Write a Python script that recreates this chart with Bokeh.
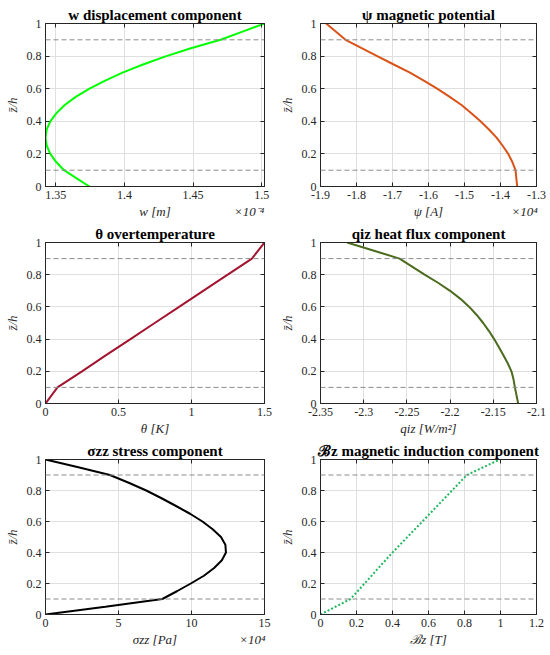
from bokeh.plotting import figure
from bokeh.layouts import gridplot
from bokeh.models import Range1d, LinearAxis, FixedTicker, CustomJSTickFormatter, Span
from bokeh.embed import file_html
from bokeh.resources import INLINE

# ---------------- data ----------------
z_fine = [0.0, 0.05, 0.1, 0.15, 0.2, 0.25, 0.3, 0.35, 0.4, 0.45, 0.5,
          0.55, 0.6, 0.65, 0.7, 0.75, 0.8, 0.85, 0.9, 0.95, 1.0]
z_coarse = [0.0, 0.1, 0.2, 0.3, 0.4, 0.5, 0.6, 0.7, 0.8, 0.9, 1.0]

# w displacement, units of 1e-4 m
w_vals = [1.3745, 1.3652, 1.3560, 1.3503, 1.3460, 1.3434, 1.3425, 1.3434, 1.3460, 1.3505, 1.3565,
          1.3645, 1.3745, 1.3860, 1.3990, 1.4140, 1.4305, 1.4490, 1.4700, 1.4860, 1.5020]
# psi magnetic potential, units of 1e4 A
psi_vals = [-1.3536, -1.3560, -1.3583, -1.3670, -1.3786, -1.3940, -1.4110, -1.4320, -1.4556, -1.4810, -1.5083,
            -1.5410, -1.5760, -1.6130, -1.6528, -1.6980, -1.7425, -1.7870, -1.8305, -1.8570, -1.8843]
# theta overtemperature, K
theta_vals = [0.0, 0.082, 0.250, 0.415, 0.582, 0.748, 0.915, 1.080, 1.248, 1.414, 1.500]
# q_iz heat flux, W/m^2
q_vals = [-2.1212, -2.1231, -2.1250, -2.1266, -2.1290, -2.1333, -2.1383, -2.1435, -2.1490, -2.1550, -2.1617,
          -2.1692, -2.1778, -2.1880, -2.2000, -2.2140, -2.2295, -2.2440, -2.2585, -2.2890, -2.3192]
# sigma_zz stress, units of 1e4 Pa
sigma_vals = [0.0, 4.1, 8.0, 9.0, 9.95, 10.85, 11.55, 12.08, 12.36, 12.32, 12.02,
              11.45, 10.75, 9.9, 8.94, 7.95, 6.9, 5.7, 4.41, 2.25, 0.0]
# B_z magnetic induction, T
B_vals = [0.0, 0.167, 0.245, 0.322, 0.400, 0.483, 0.566, 0.648, 0.731, 0.813, 0.996]

layer_bounds = [0.1, 0.9]

z_ticks = [0, 0.2, 0.4, 0.6, 0.8, 1.0]
w_ticks = [1.35, 1.4, 1.45, 1.5]
psi_ticks = [-1.9, -1.8, -1.7, -1.6, -1.5, -1.4, -1.3]
theta_ticks = [0, 0.5, 1.0, 1.5]
q_ticks = [-2.35, -2.3, -2.25, -2.2, -2.15, -2.1]
sigma_ticks = [0, 5, 10, 15]
B_ticks = [0, 0.2, 0.4, 0.6, 0.8, 1.0, 1.2]

w_range = (1.3425, 1.502)
psi_range = (-1.9, -1.3)
theta_range = (0, 1.5)
q_range = (-2.35, -2.1)
sigma_range = (0, 15)
B_range = (0, 1.2)

SERIF = "Liberation Serif"
INK = "#262626"


def num_fmt():
    return CustomJSTickFormatter(code="return String(parseFloat(tick.toFixed(4)));")


def blank_fmt():
    return CustomJSTickFormatter(code="return '';")


def panel(title, xlabel, xv, zv, color, xr, xticks, scale_text, w, h, bl, br, bt, bb,
          dash="solid", lw=2, title_size="15px", scale_frac=0.07):
    p = figure(width=w, height=h, output_backend="svg", toolbar_location=None,
               x_range=Range1d(*xr), y_range=Range1d(0, 1),
               min_border_left=bl, min_border_right=br, min_border_top=bt, min_border_bottom=bb,
               y_axis_label="z̄/h")
    p.title = None
    p.background_fill_color = "white"
    p.border_fill_color = "white"
    p.outline_line_color = INK
    p.outline_line_width = 1

    p.xaxis.ticker = FixedTicker(ticks=xticks)
    p.yaxis.ticker = FixedTicker(ticks=z_ticks)
    p.xaxis.formatter = num_fmt()
    p.yaxis.formatter = num_fmt()
    for ax in (p.xaxis[0], p.yaxis[0]):
        ax.major_tick_in = 4
        ax.major_tick_out = 0
        ax.minor_tick_line_color = None
        ax.axis_line_color = INK
        ax.major_tick_line_color = INK
        ax.major_label_text_font = SERIF
        ax.major_label_text_font_size = "12px"
        ax.major_label_text_color = INK
        ax.major_label_standoff = 4
        ax.axis_label_text_font = SERIF
        ax.axis_label_text_font_size = "13px"
        ax.axis_label_text_font_style = "italic"
        ax.axis_label_text_color = INK
        ax.axis_label_standoff = 4

    p.xgrid.ticker = FixedTicker(ticks=xticks)
    p.ygrid.ticker = FixedTicker(ticks=z_ticks)
    p.grid.grid_line_color = "#DFDFDF"
    p.grid.grid_line_width = 1

    # top axis: inward ticks, no labels; carries the panel title as its axis label
    top = LinearAxis(ticker=FixedTicker(ticks=xticks), formatter=blank_fmt(),
                     major_tick_in=4, major_tick_out=0, minor_tick_line_color=None,
                     axis_line_color=INK, major_tick_line_color=INK, major_label_standoff=0,
                     major_label_text_font_size="0px",
                     axis_label=title, axis_label_standoff=1,
                     axis_label_text_font=SERIF, axis_label_text_font_size=title_size,
                     axis_label_text_font_style="bold", axis_label_text_color="black")
    right = LinearAxis(ticker=FixedTicker(ticks=z_ticks), formatter=blank_fmt(),
                       major_tick_in=4, major_tick_out=0, minor_tick_line_color=None,
                       axis_line_color=INK, major_tick_line_color=INK, major_label_standoff=0,
                       major_label_text_font_size="0px")
    p.add_layout(top, "above")
    p.add_layout(right, "right")

    # x-axis label (centred) and power-of-ten factor (right end) on one line below the tick labels
    span = xr[1] - xr[0]
    lab_pos = [xr[0] + 0.5 * span]
    lab_txt = [xlabel]
    if scale_text:
        lab_pos.append(xr[1] - scale_frac * span)
        lab_txt.append(scale_text)
    lab_ax = LinearAxis(ticker=FixedTicker(ticks=lab_pos),
                        formatter=CustomJSTickFormatter(args=dict(t=lab_txt), code="return t[index];"),
                        major_tick_in=0, major_tick_out=0,
                        major_tick_line_color=None, minor_tick_line_color=None,
                        axis_line_color=None, major_label_standoff=2,
                        major_label_text_font=SERIF, major_label_text_font_size="13px",
                        major_label_text_font_style="italic", major_label_text_color=INK)
    p.add_layout(lab_ax, "below")

    for zb in layer_bounds:
        p.add_layout(Span(location=zb, dimension="width", line_color="#8C8C8C",
                          line_dash="5 3", line_width=1))

    p.line(xv, zv, line_color=color, line_width=lw, line_dash=dash)
    return p


LW, RW = 275, 275
H1, H2, H3 = 221, 217, 217

p1 = panel("w displacement component", "w [m]", w_vals, z_fine, "#00FF00", w_range, w_ticks,
           "×10⁻⁴", LW, H1, 45, 11, 23, 35)
p2 = panel("ψ magnetic potential", "ψ [A]", psi_vals, z_fine, "#D95319", psi_range, psi_ticks,
           "×10⁴", RW, H1, 45, 14, 23, 35, scale_frac=0.055)
p3 = panel("θ overtemperature", "θ [K]", theta_vals, z_coarse, "#A2142F", theta_range, theta_ticks,
           None, LW, H2, 45, 11, 21, 35)
p4 = panel("qiz heat flux component", "qiz [W/m²]", q_vals, z_fine, "#4B6B1E", q_range, q_ticks,
           None, RW, H2, 45, 14, 21, 35)
p5 = panel("σzz stress component", "σzz [Pa]", sigma_vals, z_fine, "black", sigma_range, sigma_ticks,
           "×10⁴", LW, H3, 45, 11, 21, 41, scale_frac=0.055)
p6 = panel("ℬz magnetic induction component", "ℬz [T]", B_vals, z_coarse, "#20B860", B_range, B_ticks,
           None, RW, H3, 45, 14, 21, 41, dash="2 2")

grid = gridplot([[p1, p2], [p3, p4], [p5, p6]], toolbar_location=None)

open("out.html", "w").write(file_html(grid, INLINE))
